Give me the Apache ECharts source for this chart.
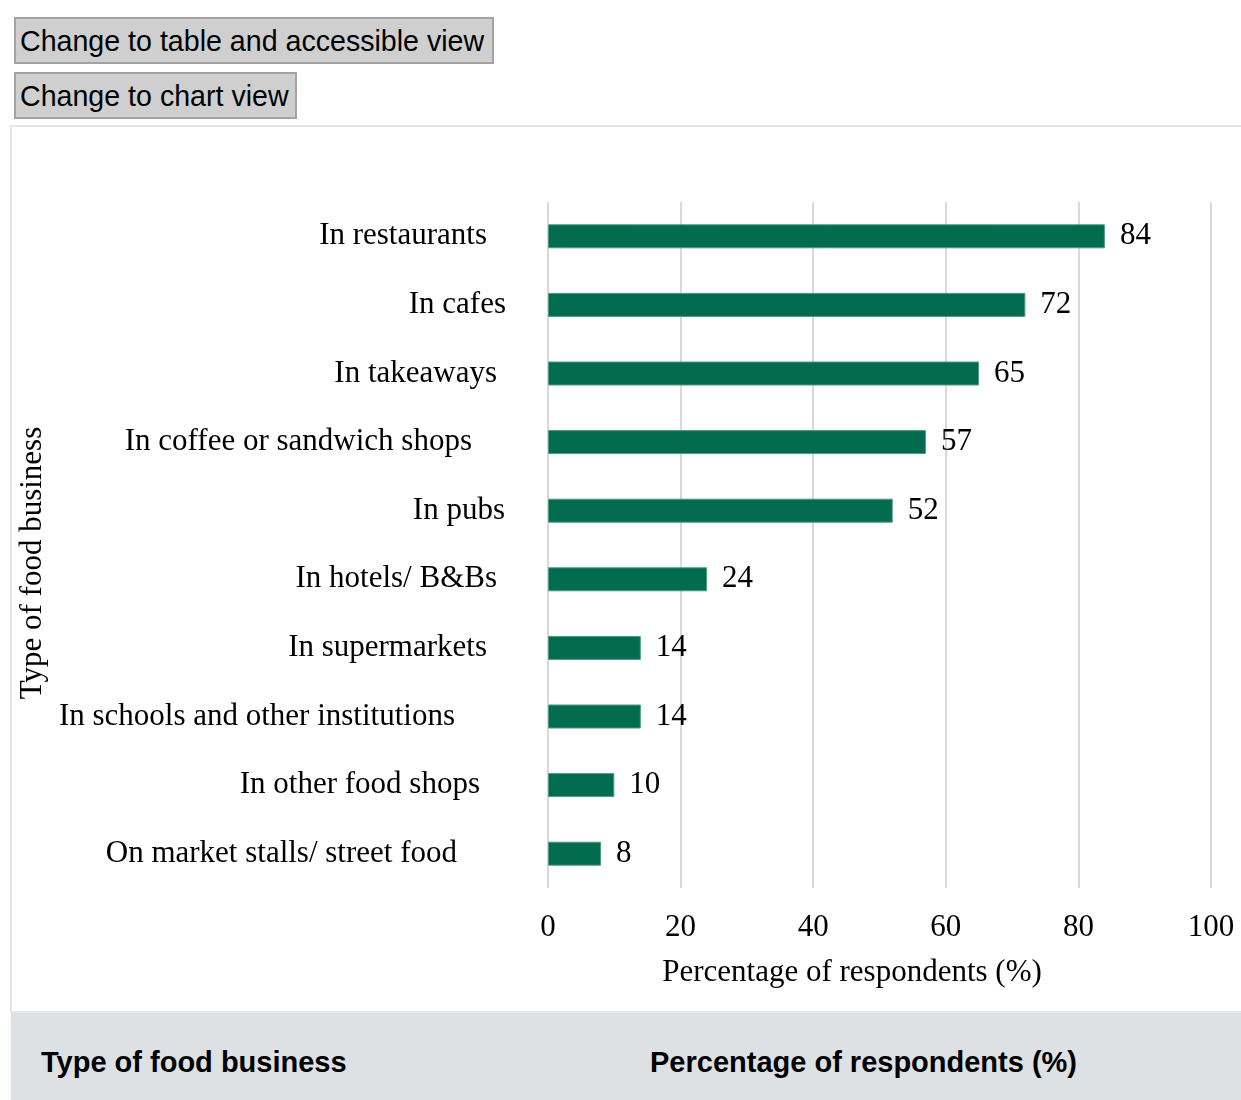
<!DOCTYPE html>
<html>
<head>
<meta charset="utf-8">
<script src="https://cdn.jsdelivr.net/npm/echarts@6/dist/echarts.min.js"></script>
<style>
  html, body { margin: 0; padding: 0; background: #fff; overflow: hidden; width: 1241px; height: 1100px; }
  .btn {
    position: absolute; left: 14px; height: 47px; box-sizing: border-box;
    background: #cfcfcf; border: 2px solid #a3a3a3; color: #000;
    font-family: "Liberation Sans", Arial, sans-serif; font-size: 28.6px;
    padding: 0 4px; line-height: 45px; white-space: nowrap;
  }
  #b1 { top: 17px; width: 480px; }
  #b2 { top: 72px; width: 283px; }
  #box {
    position: absolute; left: 10px; top: 125px; width: 1260px; height: 888px;
    box-sizing: border-box; border: 2px solid #e6e6e6; background: #fff;
  }
  #chart { position: absolute; left: 12px; top: 127px; width: 1240px; height: 884px; }
  #thead {
    position: absolute; left: 11px; top: 1013px; width: 1260px; height: 100px;
    background: #dee1e4; font-family: "Liberation Sans", Arial, sans-serif;
    font-weight: bold; font-size: 29px; color: #000;
  }
  #thead span { position: absolute; top: 33px; white-space: nowrap; }
</style>
</head>
<body>
<div class="btn" id="b1">Change to table and accessible view</div>
<div class="btn" id="b2">Change to chart view</div>
<div id="box"></div>
<div id="chart"></div>
<div id="thead">
  <span style="left:30px">Type of food business</span>
  <span style="left:639px">Percentage of respondents (%)</span>
</div>
<script>
// Survey: where respondents have eaten out
const categories = [
  'In restaurants',
  'In cafes',
  'In takeaways',
  'In coffee or sandwich shops',
  'In pubs',
  'In hotels/ B&Bs',
  'In supermarkets',
  'In schools and other institutions',
  'In other food shops',
  'On market stalls/ street food'
];
const percentages = [84, 72, 65, 57, 52, 24, 14, 14, 10, 8];
const xTicks = [0, 20, 40, 60, 80, 100];

// right-hand spacing of each category label from the axis (px)
const labelGaps = [61, 42, 51, 76, 43, 51, 61, 93, 68, 91];

const serif = '"Liberation Serif", "Times New Roman", serif';
const chart = echarts.init(document.getElementById('chart'), null, { renderer: 'canvas' });

chart.setOption({
  animation: false,
  textStyle: { fontFamily: serif },
  grid: {
    left: 536, top: 75, width: 663, height: 686,
    containLabel: false, outerBoundsMode: 'none'
  },
  xAxis: {
    type: 'value',
    min: xTicks[0],
    max: xTicks[xTicks.length - 1],
    interval: xTicks[1] - xTicks[0],
    name: 'Percentage of respondents (%)',
    nameLocation: 'middle',
    nameGap: 69,
    nameTextStyle: { fontFamily: serif, fontSize: 31, color: '#000', padding: [0, 55, 0, 0] },
    axisLine: { show: false },
    axisTick: { show: false },
    axisLabel: { fontFamily: serif, fontSize: 31, color: '#000', margin: 24 },
    splitLine: { show: true, lineStyle: { color: '#d9d9d9', width: 2 } }
  },
  yAxis: {
    type: 'category',
    inverse: true,
    data: categories.map((c, i) => ({
      value: c,
      textStyle: { padding: [0, labelGaps[i], 0, 0] }
    })),
    name: 'Type of food business',
    nameLocation: 'middle',
    nameGap: 498,
    nameRotate: 90,
    nameTextStyle: { fontFamily: serif, fontSize: 31, color: '#000', padding: [0, 36, 0, 0] },
    axisLine: { show: false },
    axisTick: { show: false },
    axisLabel: { fontFamily: serif, fontSize: 31, color: '#000', margin: 0 },
    splitLine: { show: false }
  },
  series: [{
    type: 'bar',
    data: percentages,
    barWidth: 24,
    itemStyle: { color: '#036c50', borderColor: '#4f9a80', borderWidth: 1 },
    label: {
      show: true,
      position: 'right',
      distance: 15,
      fontFamily: serif,
      fontSize: 31,
      color: '#000'
    }
  }]
});
</script>
</body>
</html>
